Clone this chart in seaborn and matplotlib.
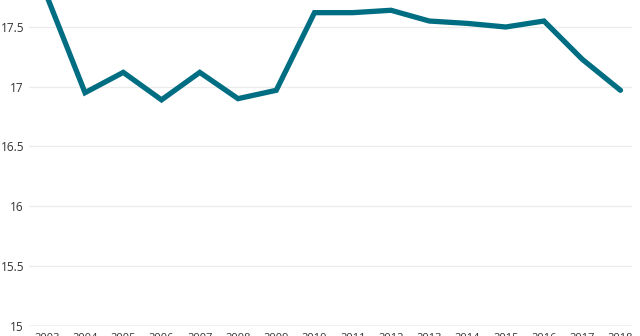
import matplotlib
matplotlib.use("Agg")
import matplotlib.pyplot as plt
import seaborn as sns
import pandas as pd

years = [2003, 2004, 2005, 2006, 2007, 2008, 2009, 2010, 2011, 2012, 2013, 2014, 2015, 2016, 2017, 2018]
values = [17.76, 16.95, 17.12, 16.89, 17.12, 16.90, 16.97, 17.62, 17.62, 17.64, 17.55, 17.53, 17.50, 17.55, 17.23, 16.97]
yticks = [15, 15.5, 16, 16.5, 17, 17.5]
ytick_labels = ["15", "15.5", "16", "16.5", "17", "17.5"]

df = pd.DataFrame({"year": years, "value": values})

sns.set_theme(style="white")
plt.rcParams["font.family"] = ["Open Sans", "DejaVu Sans"]

fig = plt.figure(figsize=(6.4, 3.36), dpi=100)
ax = fig.add_axes([0.045, 0.031, 0.943, 0.969])

sns.lineplot(data=df, x="year", y="value", ax=ax, color="#006e82", linewidth=3.8,
             solid_capstyle="round", solid_joinstyle="miter", zorder=3)

ax.set_xlim(2002.53, 2018.31)
ax.set_ylim(15, 17.726)
ax.set_yticks(yticks)
ax.set_yticklabels(ytick_labels)
ax.set_xticks(years)
ax.set_xticklabels([str(y) for y in years])

for yv in yticks[1:]:
    ax.axhline(yv, color="#ebebeb", linewidth=0.9, zorder=1)
ax.axhline(15, color="#bdbdbd", linewidth=1.0, zorder=2)

for s in ax.spines.values():
    s.set_visible(False)

ax.tick_params(axis="y", length=0, pad=3.5, labelsize=8.5, labelcolor="#333333")
ax.tick_params(axis="x", length=0, pad=5.5, labelsize=8, labelcolor="#333333")
ax.set_xlabel("")
ax.set_ylabel("")
ax.grid(False)

fig.savefig("out.png", dpi=100)
